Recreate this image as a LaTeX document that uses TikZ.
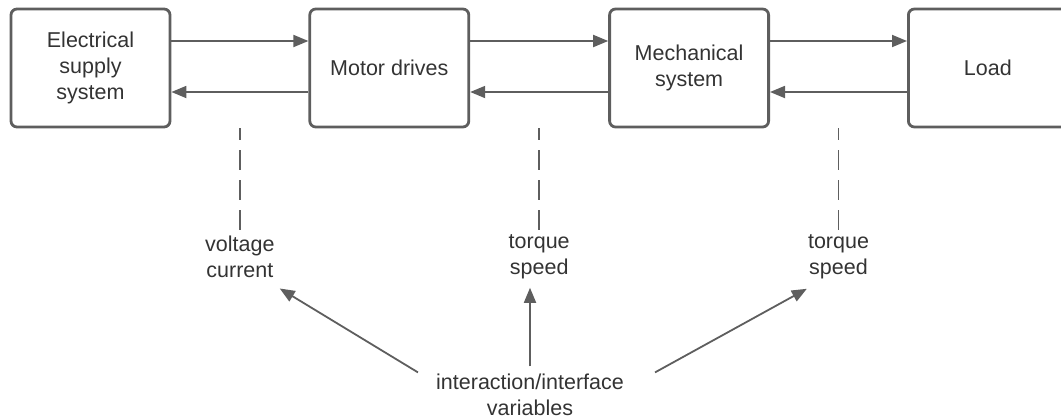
\documentclass[tikz,border=0pt]{standalone}
\usepackage{fontspec}
\setmainfont{Liberation Sans}
\usetikzlibrary{arrows.meta, positioning, calc}

\begin{document}
\begin{tikzpicture}[
    x=1pt, y=-1pt,
    font=\fontsize{21.5}{26}\selectfont,
    block/.style={
        rectangle, rounded corners=6pt, draw=lineg, line width=2.8pt,
        minimum width=159pt, minimum height=118pt,
        align=center, text=textg, inner sep=4pt
    },
    varlabel/.style={
        align=center, text=textg, inner sep=3pt
    },
    harrow/.style={
        -{Triangle[length=15pt,width=12pt]}, line width=1.8pt, draw=lineg
    },
    dline/.style={
        draw=lineg, line width=1.5pt, dash pattern=on 20pt off 10pt, dash phase=8pt
    },
]

\definecolor{lineg}{RGB}{94,94,94}
\definecolor{textg}{RGB}{51,51,51}

\useasboundingbox (0,0) rectangle (1061,418);

% ============================================================
% Blocks
% ============================================================

\node[block] (b1) at (90.5,68) {Electrical\\supply\\system};
\node[block, right=137pt of b1] (b2) {Motor drives};
\node[block, right=138pt of b2] (b3) {Mechanical\\system};
\node[block, right=137pt of b3] (b4) {Load};

\foreach \a/\b in {b1/b2, b2/b3, b3/b4} {
    \draw[harrow] ([yshift=27pt]\a.east) -- ([yshift=27pt]\b.west);
    \draw[harrow] ([yshift=-24pt]\b.west) -- ([yshift=-24pt]\a.east);
}

% ============================================================
% Interface variables
% ============================================================

\coordinate (d1) at ($(b1.south east)!0.5!(b2.south west)$);
\coordinate (d2) at ($(b2.south east)!0.5!(b3.south west)$);
\coordinate (d3) at ($(b3.south east)!0.5!(b4.south west)$);

\node[varlabel] (v1) at ($(d1)+(0,128)$) {voltage\\current};
\node[varlabel] (t1) at ($(d2)+(0,128)$) {torque\\speed};
\node[varlabel] (t2) at ($(d3)+(0,128)$) {torque\\speed};

\draw[dline] (d1) -- (v1.north);
\draw[dline] (d2) -- (t1.north);
\draw[dline] (d3) -- (t2.north);

\node[varlabel] (iv) at (530,394.5) {interaction/interface\\variables};

\draw[harrow] ([shift={(-15,2)}]iv.north west) -- ([shift={(2,8)}]v1.south east);
\draw[harrow] ([yshift=4pt]iv.north) -- ($(iv.north |- t1.south)+(0,6)$);
\draw[harrow] ([shift={(28,2)}]iv.north east) -- ([shift={(2,7)}]t2.south west);

\end{tikzpicture}
\end{document}
